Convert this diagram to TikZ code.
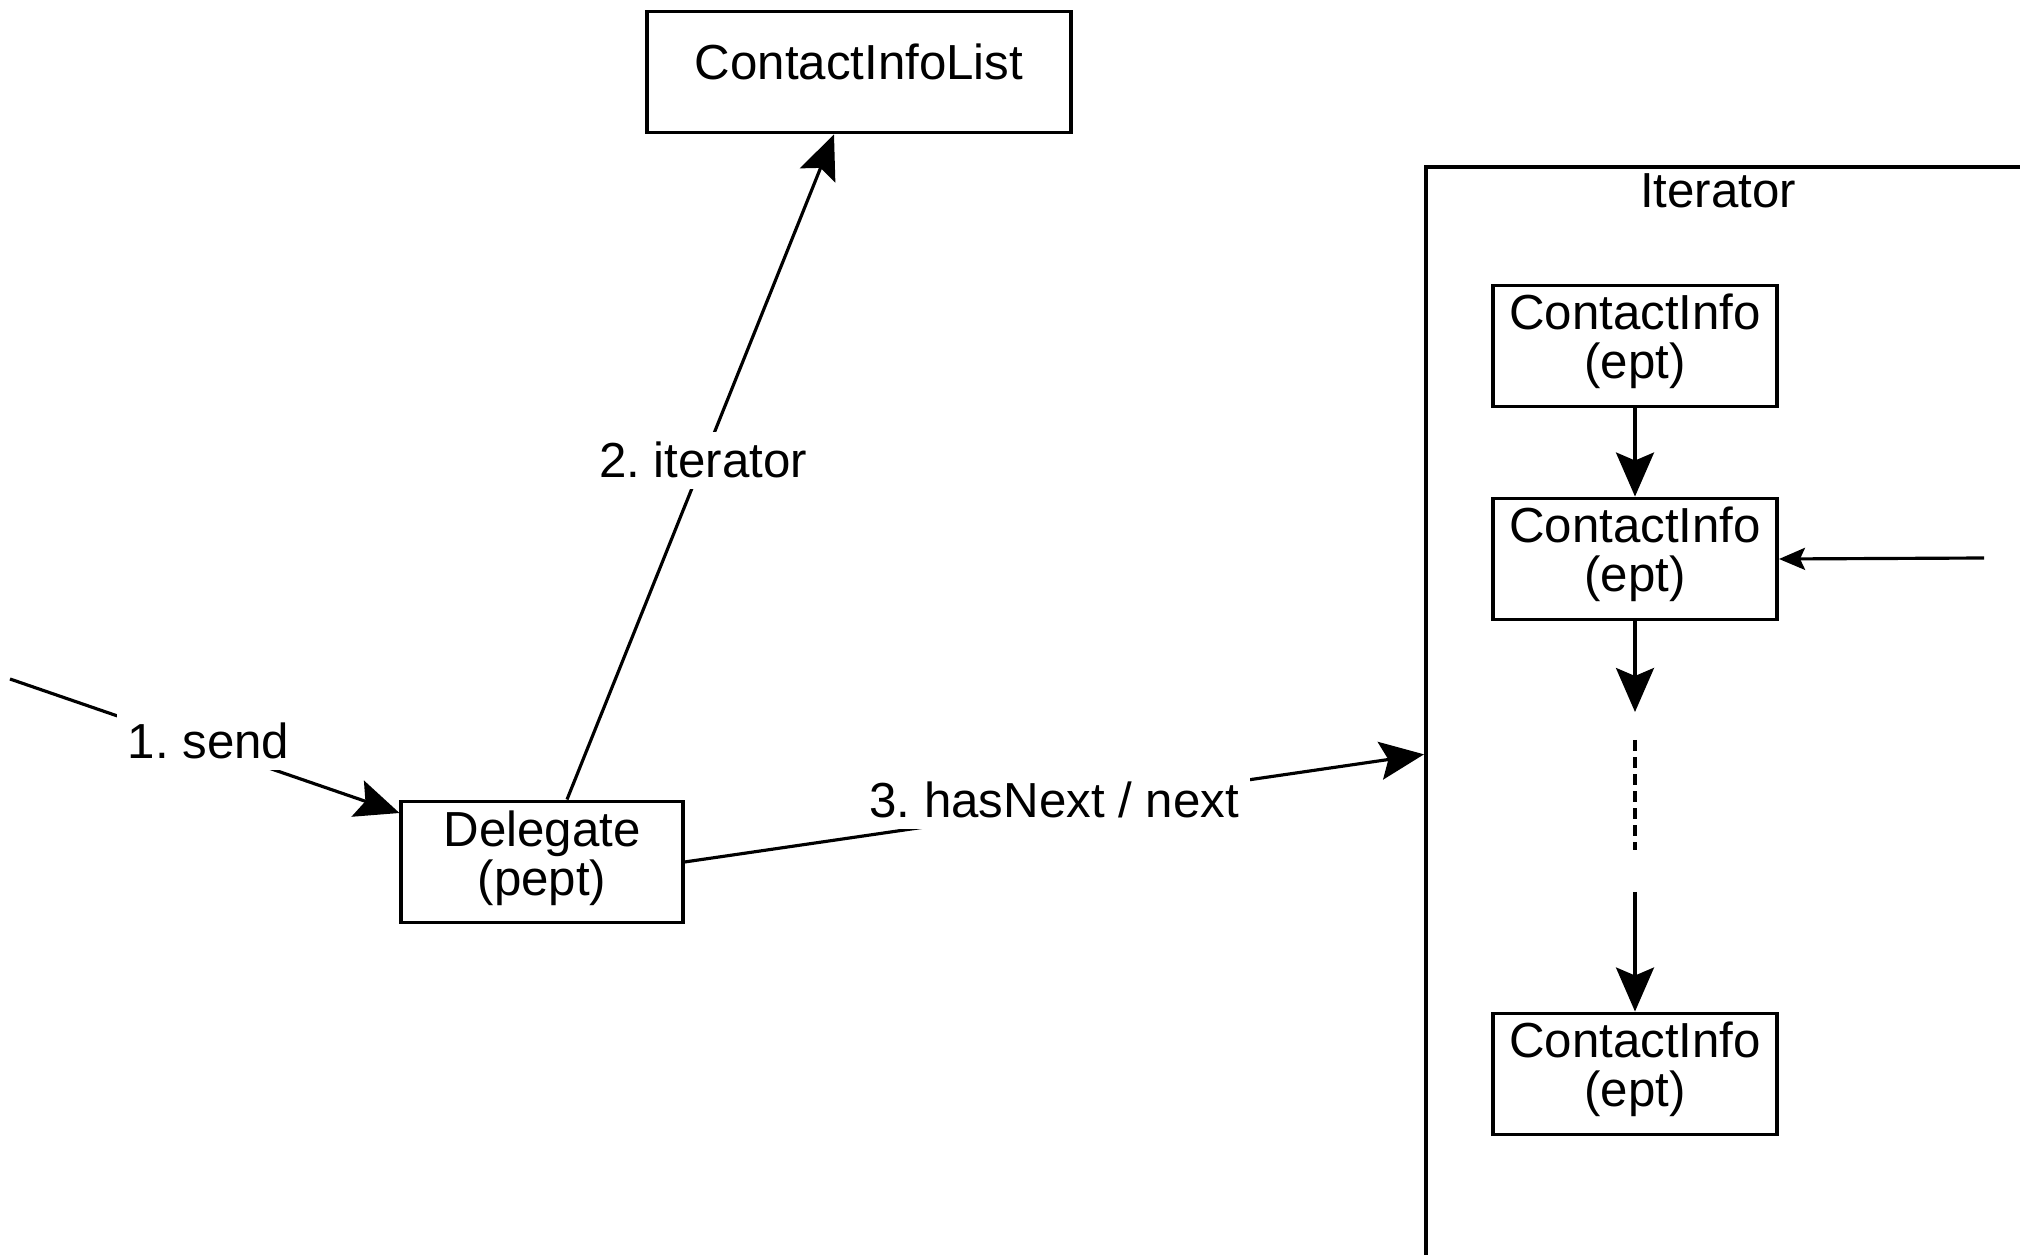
\documentclass[tikz,border=0pt]{standalone}
\usepackage{fontspec}
\setmainfont{Liberation Sans}
\usetikzlibrary{arrows.meta}

\tikzset{
  box/.style={draw, line width=1.1pt, rectangle, inner sep=0pt,
              minimum width=2.84cm, minimum height=1.21cm},
  boxtext/.style={align=center, inner sep=0pt, yshift=0.05cm},
  frame/.style={draw, line width=1.1pt, rectangle, inner sep=0pt,
                minimum width=7cm, minimum height=12cm, anchor=north west},
  conn/.style={line width=0.9pt,
               -{Stealth[length=0.44cm, width=0.38cm, inset=0.08cm]}},
  connsmall/.style={line width=0.9pt,
               -{Stealth[length=0.26cm, width=0.22cm, inset=0.05cm]}},
  dotted link/.style={line width=0.9pt, dash pattern=on 0.11cm off 0.06cm},
  lbl/.style={fill=white, inner sep=3pt}
}

\begin{document}
\frenchspacing
\begin{tikzpicture}[x=0.01cm, y=-0.01cm, font=\fontsize{14}{14}\selectfont]
  \useasboundingbox (0,0) rectangle (2020,1255);

  % objects
  \node[box, minimum width=4.24cm,
        label={[boxtext, yshift=0.05cm]center:ContactInfoList}] (cil) at (859,72) {};
  \node[box, minimum width=2.81cm,
        label={[boxtext, yshift=-0.01cm]center:{Delegate\\(pept)}}] (del) at (542,862) {};

  % iterator frame with its chain of contact infos
  \node[frame] (iter) at (1424,165) {};
  \node (itlbl) at (1718,191) {Iterator};
  \node[box, label={[boxtext]center:{ContactInfo\\(ept)}}] (ci1) at (1635,346) {};
  \node[box, label={[boxtext]center:{ContactInfo\\(ept)}}] (ci2) at (1635,559) {};
  \node[box, label={[boxtext]center:{ContactInfo\\(ept)}}] (ci3) at (1635,1074) {};

  % free ends and breaks in the chain
  \coordinate (sendin) at (10,679);
  \coordinate (curin) at (1984,558);
  \coordinate (gapA) at (1635,712);
  \coordinate (gapB) at (1635,740);
  \coordinate (gapC) at (1635,850);
  \coordinate (gapD) at (1635,892);

  % messages
  \draw[conn] (sendin) -- node[lbl, pos=0.51, yshift=0.06cm] {1. send} (del);
  \draw[conn] (del) -- node[lbl, pos=0.51] {2. iterator} (cil);
  \draw[conn] (del.east) -- node[lbl, pos=0.5, yshift=0.08cm] {3. hasNext / next}
              ([yshift=-5.89cm]iter.north west);

  % chain links
  \draw[conn] (ci1) -- (ci2);
  \draw[conn] (ci2) -- (gapA);
  \draw[dotted link] (gapB) -- (gapC);
  \draw[conn] (gapD) -- (ci3);
  \draw[connsmall] (curin) -- (ci2.east);
\end{tikzpicture}
\end{document}
